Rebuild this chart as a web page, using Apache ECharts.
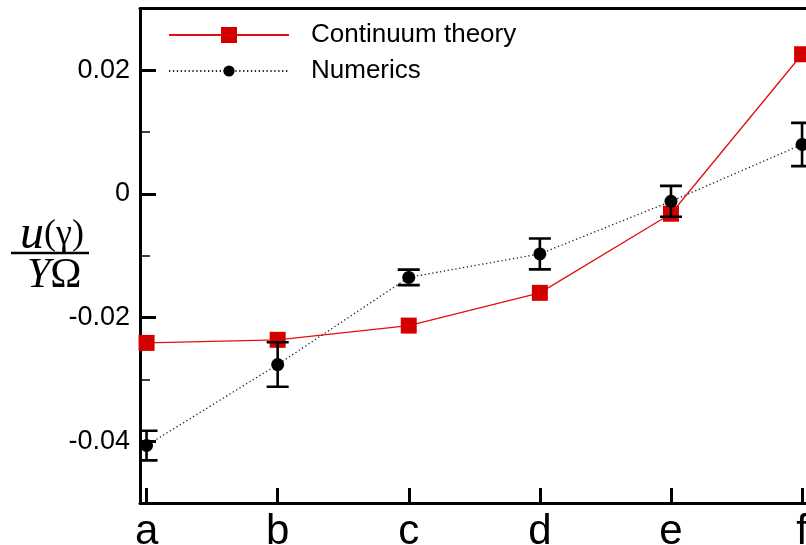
<!DOCTYPE html>
<html>
<head>
<meta charset="utf-8">
<script src="https://cdn.jsdelivr.net/npm/echarts@6/dist/echarts.min.js"></script>
<style>
html,body{margin:0;padding:0;background:#fff;}
#chart{width:806px;height:545px;}
</style>
</head>
<body>
<div id="chart"></div>
<script>
var categories = ['a', 'b', 'c', 'd', 'e', 'f'];
var theory = [-0.0241, -0.0236, -0.0213, -0.0160, -0.0032, 0.0226];
var numerics = [-0.0407, -0.0276, -0.0135, -0.0097, -0.0012, 0.0080];
var numericsErr = [0.0024, 0.0036, 0.00125, 0.0025, 0.0025, 0.0035];
var yMajorTicks = [-0.04, -0.02, 0, 0.02];
var yMinorTicks = [-0.05, -0.03, -0.01, 0.01, 0.03];

var FONT = 'Liberation Sans, Arial, sans-serif';
var SERIF = 'Liberation Serif, Times New Roman, serif';

var theoryData = categories.map(function (c, i) { return [i, theory[i]]; });
var numericsData = categories.map(function (c, i) { return [i, numerics[i]]; });
var errData = categories.map(function (c, i) { return [i, numerics[i] - numericsErr[i], numerics[i] + numericsErr[i]]; });
var xTickValues = categories.map(function (c, i) { return i; });

var gridRect = { left: 140, right: 0, top: 8.5, bottom: 42, containLabel: false, outerBoundsMode: 'none' };
var chart = echarts.init(document.getElementById('chart'));
chart.setOption({
  backgroundColor: '#fff',
  animation: false,
  grid: [
    Object.assign({}, gridRect),
    Object.assign({}, gridRect)
  ],
  legend: [
    {
      data: ['Continuum theory'],
      left: 163, top: 17,
      itemWidth: 120, itemHeight: 20,
      textStyle: { fontFamily: FONT, fontSize: 26, color: '#000', padding: [0, 0, 0, 17] },
      selectedMode: false
    },
    {
      data: ['Numerics'],
      left: 163, top: 53,
      itemWidth: 120, itemHeight: 14,
      textStyle: { fontFamily: FONT, fontSize: 26, color: '#000', padding: [0, 0, 0, 17] },
      selectedMode: false
    }
  ],
  xAxis: [
    {
      gridIndex: 0, type: 'value', min: -0.05, max: 5.03, position: 'bottom',
      splitLine: { show: false },
      axisLine: { show: true, onZero: false, lineStyle: { color: '#000', width: 3 } },
      axisTick: { show: true, inside: true, length: 15, customValues: xTickValues, lineStyle: { color: '#000', width: 3 } },
      axisLabel: {
        show: true, customValues: xTickValues, margin: 8,
        fontFamily: FONT, fontSize: 42, color: '#000',
        formatter: function (v) { return categories[Math.round(v)]; }
      }
    },
    {
      gridIndex: 0, type: 'value', min: -0.05, max: 5.03, position: 'top',
      splitLine: { show: false },
      axisLine: { show: true, onZero: false, lineStyle: { color: '#000', width: 3 } },
      axisTick: { show: false }, axisLabel: { show: false }
    },
    {
      gridIndex: 1, type: 'value', min: -0.05, max: 5.03, show: false
    }
  ],
  yAxis: [
    {
      gridIndex: 0, type: 'value', min: -0.05, max: 0.03, interval: 0.02,
      splitLine: { show: false },
      axisLine: { show: true, onZero: false, lineStyle: { color: '#000', width: 3 } },
      axisTick: { show: true, inside: true, length: 10, customValues: yMinorTicks, lineStyle: { color: '#000', width: 1.5 } },
      axisLabel: { show: false }
    },
    {
      gridIndex: 1, type: 'value', min: -0.05, max: 0.03, interval: 0.02, position: 'left',
      splitLine: { show: false },
      axisLine: { show: false, onZero: false },
      axisTick: { show: true, inside: true, length: 16, customValues: yMajorTicks, lineStyle: { color: '#000', width: 3 } },
      axisLabel: {
        show: true, customValues: yMajorTicks, margin: 10,
        fontFamily: FONT, fontSize: 27, color: '#000',
        formatter: function (v) { return v === 0 ? '0' : String(Math.round(v * 100) / 100); }
      }
    }
  ],
  graphic: [
    {
      type: 'text', left: 20, top: 211,
      style: {
        text: '{u|u}{p|(γ)}',
        rich: {
          u: { fontFamily: SERIF, fontStyle: 'italic', fontSize: 48, fill: '#000' },
          p: { fontFamily: SERIF, fontSize: 36, fill: '#000' }
        }
      }
    },
    {
      type: 'line', shape: { x1: 11, y1: 253, x2: 89, y2: 253 },
      style: { stroke: '#000', lineWidth: 2.5 }
    },
    {
      type: 'text', left: 27, top: 255,
      style: {
        text: '{y|Y}{o|Ω}',
        rich: {
          y: { fontFamily: SERIF, fontStyle: 'italic', fontSize: 42, fill: '#000' },
          o: { fontFamily: SERIF, fontSize: 42, fill: '#000' }
        }
      }
    }
  ],
  series: [
    {
      name: 'Continuum theory', type: 'line', xAxisIndex: 0, yAxisIndex: 0,
      data: theoryData,
      symbol: 'rect', symbolSize: 16,
      itemStyle: { color: '#d40000' },
      lineStyle: { color: '#e01010', width: 1.3 },
      z: 2
    },
    {
      name: 'Numerics', type: 'line', xAxisIndex: 0, yAxisIndex: 0,
      data: numericsData,
      symbol: 'circle', symbolSize: 13,
      itemStyle: { color: '#000' },
      lineStyle: { color: '#222', width: 1.3, type: [1.3, 2.6] },
      z: 3
    },
    {
      name: 'err', type: 'custom', xAxisIndex: 0, yAxisIndex: 0,
      data: errData, clip: true, z: 4,
      renderItem: function (params, api) {
        var x = api.value(0);
        var lo = api.coord([x, api.value(1)]);
        var hi = api.coord([x, api.value(2)]);
        var w = 11;
        var st = { stroke: '#000', lineWidth: 2.6 };
        return {
          type: 'group',
          children: [
            { type: 'line', shape: { x1: hi[0], y1: hi[1], x2: lo[0], y2: lo[1] }, style: st },
            { type: 'line', shape: { x1: hi[0] - w, y1: hi[1], x2: hi[0] + w, y2: hi[1] }, style: st },
            { type: 'line', shape: { x1: lo[0] - w, y1: lo[1], x2: lo[0] + w, y2: lo[1] }, style: st }
          ]
        };
      }
    }
  ]
});
</script>
</body>
</html>
